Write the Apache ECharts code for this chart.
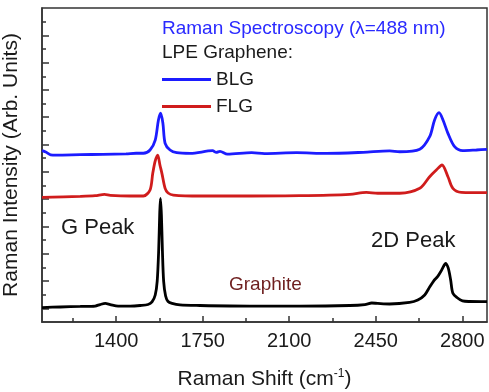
<!DOCTYPE html>
<html>
<head>
<meta charset="utf-8">
<script src="https://cdn.jsdelivr.net/npm/echarts@6/dist/echarts.min.js"></script>
<style>
  html, body { margin: 0; padding: 0; background: #fff; }
  #chart { width: 489px; height: 392px; }
</style>
</head>
<body>
<div id="chart"></div>
<script>
// Raman spectra: [shift cm-1, intensity (arb.)]
var graphite = [
  [1100, 1.06], [1174, 1.10], [1255, 1.14], [1315, 1.17], [1335, 1.28], [1356, 1.36], [1376, 1.28],
  [1408, 1.17], [1457, 1.17], [1497, 1.21], [1529, 1.28], [1545, 1.47], [1558, 1.98], [1566, 3.00],
  [1572, 5.27], [1576, 7.84], [1579, 9.05], [1583, 7.84], [1587, 5.27], [1592, 3.00], [1600, 1.90],
  [1610, 1.50], [1626, 1.36], [1658, 1.25], [1739, 1.21], [1941, 1.17], [2143, 1.17], [2345, 1.21],
  [2406, 1.28], [2434, 1.39], [2458, 1.36], [2506, 1.32], [2587, 1.43], [2620, 1.61], [2648, 1.98],
  [2668, 2.56], [2684, 3.00], [2700, 3.32], [2712, 3.66], [2725, 4.10], [2732, 4.30], [2743, 3.96],
  [2753, 3.08], [2762, 2.10], [2781, 1.76], [2801, 1.54], [2830, 1.50], [2900, 1.49]
];
var flg = [
  [1100, 9.13], [1255, 9.20], [1315, 9.25], [1353, 9.35], [1376, 9.28], [1457, 9.23], [1510, 9.23],
  [1537, 9.67], [1548, 10.89], [1558, 11.80], [1568, 12.23], [1577, 11.50], [1585, 10.89], [1598, 9.79],
  [1610, 9.45], [1631, 9.30], [1739, 9.23], [1941, 9.23], [2143, 9.25], [2345, 9.35], [2412, 9.50],
  [2458, 9.43], [2547, 9.43], [2628, 9.79], [2668, 10.64], [2695, 11.13], [2718, 11.50], [2742, 10.64],
  [2762, 9.79], [2796, 9.50], [2900, 9.47]
];
var blg = [
  [1100, 12.55], [1115, 12.45], [1135, 12.25], [1158, 12.23], [1255, 12.26], [1346, 12.28], [1440, 12.32],
  [1481, 12.36], [1510, 12.36], [1537, 12.60], [1558, 13.33], [1571, 14.80], [1580, 15.29], [1589, 14.56],
  [1598, 13.09], [1618, 12.60], [1645, 12.40], [1700, 12.35], [1790, 12.55], [1805, 12.42], [1820, 12.50],
  [1850, 12.30], [1948, 12.40], [2000, 12.33], [2130, 12.40], [2250, 12.35], [2399, 12.43], [2506, 12.53],
  [2547, 12.47], [2628, 12.65], [2668, 13.57], [2688, 14.80], [2706, 15.33], [2722, 14.80], [2742, 13.82],
  [2769, 12.84], [2802, 12.55], [2857, 12.60], [2900, 12.65]
];
var xMajor = [1400, 1750, 2100, 2450, 2800];
var xMinor = [1225, 1575, 1925, 2275, 2625];
var yLong = [1, 3, 5, 7, 9, 11, 13, 15, 17, 19, 21];
var yShort = [2, 4, 6, 8, 10, 12, 14, 16, 18, 20, 22];

var chart = echarts.init(document.getElementById('chart'));
var font = 'Liberation Sans, Arial, sans-serif';

function xAxis(ticks, len, withLabels) {
  return {
    type: 'value', min: 1100, max: 2900, position: 'bottom',
    name: withLabels ? '{a|Raman Shift (cm}{s|-1}{a|)}' : '',
    nameLocation: 'middle', nameGap: 46,
    nameTextStyle: {
      rich: {
        a: { fontSize: 21, fontFamily: font, color: '#1a1a1a' },
        s: { fontSize: 12, fontFamily: font, color: '#1a1a1a', verticalAlign: 'top', padding: [0, 0, 10, 0] }
      }
    },
    axisLine: { show: withLabels, lineStyle: { color: '#333', width: 1.5 } },
    axisTick: { show: true, inside: true, length: len, customValues: ticks, lineStyle: { color: '#333', width: 1.5 } },
    axisLabel: {
      show: withLabels, customValues: ticks, margin: 9, fontSize: 20, fontFamily: font, color: '#1a1a1a',
      formatter: function (v) { return String(v); }
    },
    splitLine: { show: false }
  };
}
function yAxis(ticks, len, withName) {
  return {
    type: 'value', min: 0, max: 23, position: 'left',
    name: withName ? 'Raman Intensity (Arb. Units)' : '',
    nameLocation: 'middle', nameGap: 20,
    nameTextStyle: { fontSize: 21, fontFamily: font, color: '#1a1a1a' },
    axisLine: { show: withName, lineStyle: { color: '#333', width: 1.5 } },
    axisTick: { show: true, inside: true, length: len, customValues: ticks, lineStyle: { color: '#333', width: 1.5 } },
    axisLabel: { show: false },
    splitLine: { show: false }
  };
}

var option = {
  animation: false,
  grid: {
    left: 42, right: 2, top: 8, bottom: 70, containLabel: false, outerBoundsMode: 'none',
    show: true, borderColor: '#333', borderWidth: 1.5
  },
  legend: {
    data: ['BLG', 'FLG'], orient: 'vertical', left: 157, top: 65, itemGap: 8,
    icon: 'rect', itemWidth: 49, itemHeight: 3,
    textStyle: { fontSize: 19, fontFamily: font, color: '#1a1a1a', lineHeight: 19 }
  },
  xAxis: [xAxis(xMajor, 6, true), xAxis(xMinor, 4, false)],
  yAxis: [yAxis(yLong, 7, true), yAxis(yShort, 4, false)],
  graphic: [
    { type: 'text', x: 162, y: 29, style: { text: 'Raman Spectroscopy (\u03bb=488 nm)', font: '19px ' + font, fill: '#2a2aff', verticalAlign: 'middle' } },
    { type: 'text', x: 162, y: 53, style: { text: 'LPE Graphene:', font: '19px ' + font, fill: '#1a1a1a', verticalAlign: 'middle' } },
    { type: 'text', x: 61, y: 228, style: { text: 'G Peak', font: '22px ' + font, fill: '#1a1a1a', verticalAlign: 'middle' } },
    { type: 'text', x: 371, y: 241, style: { text: '2D Peak', font: '22px ' + font, fill: '#1a1a1a', verticalAlign: 'middle' } },
    { type: 'text', x: 229, y: 285, style: { text: 'Graphite', font: '19px ' + font, fill: '#6e1f1f', verticalAlign: 'middle' } }
  ],
  series: [
    { name: 'Graphite', type: 'line', data: graphite, showSymbol: false, smooth: 0.3, lineStyle: { color: '#000', width: 2.8 }, itemStyle: { color: '#000' } },
    { name: 'FLG', type: 'line', data: flg, showSymbol: false, smooth: 0.3, lineStyle: { color: '#d01c1c', width: 2.8 }, itemStyle: { color: '#d01c1c' } },
    { name: 'BLG', type: 'line', data: blg, showSymbol: false, smooth: 0.3, lineStyle: { color: '#1c1cff', width: 2.8 }, itemStyle: { color: '#1c1cff' } }
  ]
};
chart.setOption(option);
</script>
</body>
</html>
